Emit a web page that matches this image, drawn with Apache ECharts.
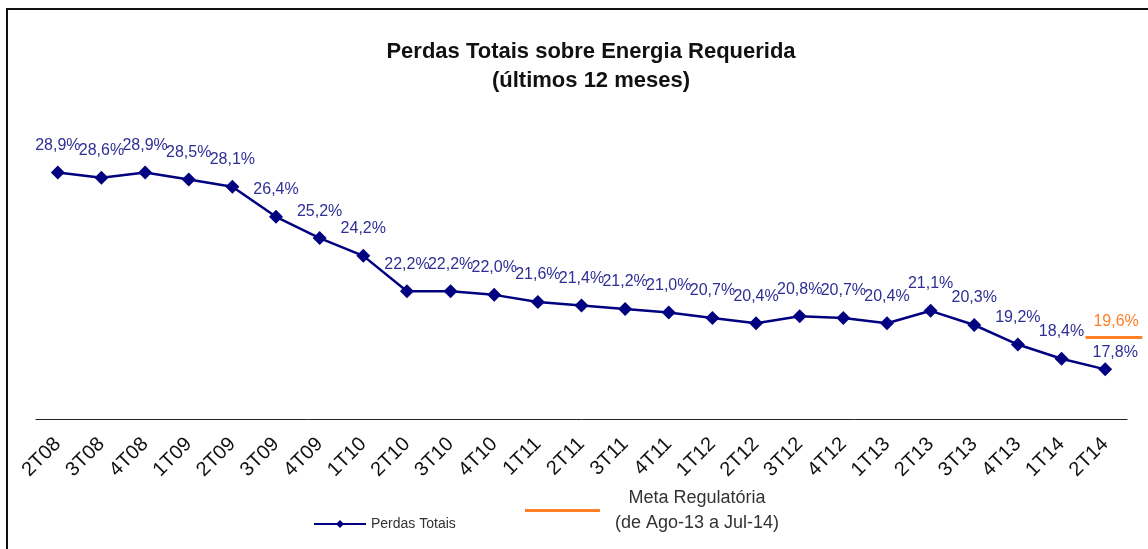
<!DOCTYPE html>
<html>
<head>
<meta charset="utf-8">
<script src="https://cdn.jsdelivr.net/npm/echarts@6/dist/echarts.min.js"></script>
<style>
  html, body { margin: 0; padding: 0; background: #fff; }
  #main { width: 1148px; height: 549px; }
</style>
</head>
<body>
<div id="main"></div>
<script>
// trimestres
const categories = ['2T08','3T08','4T08','1T09','2T09','3T09','4T09','1T10','2T10','3T10','4T10','1T11','2T11',
                    '3T11','4T11','1T12','2T12','3T12','4T12','1T13','2T13','3T13','4T13','1T14','2T14'];
// perdas totais (%)
const perdas = [28.9, 28.6, 28.9, 28.5, 28.1, 26.4, 25.2, 24.2, 22.2, 22.2, 22.0, 21.6, 21.4,
                21.2, 21.0, 20.7, 20.4, 20.8, 20.7, 20.4, 21.1, 20.3, 19.2, 18.4, 17.8];
// meta regulatoria (só no último trimestre)
const metaCat = '2T14';
const metaValor = 19.6;

const fmt = v => v.toFixed(1).replace('.', ',') + '%';
const sans = "'Liberation Sans', Arial, sans-serif";

const chart = echarts.init(document.getElementById('main'));

const option = {
    animation: false,
    graphic: [{
        type: 'rect',
        shape: { x: 7, y: 9, width: 1160, height: 570 },
        style: { fill: 'none', stroke: '#111', lineWidth: 2 }
    }, {
        type: 'text',
        x: 591, y: 37,
        style: {
            text: 'Perdas Totais sobre Energia Requerida\n(últimos 12 meses)',
            font: 'bold 22px ' + sans, fill: '#111', align: 'center', lineHeight: 29
        }
    }],
    legend: [{
        data: ['Perdas Totais'],
        left: 308,
        top: 512,
        itemWidth: 52,
        itemHeight: 10,
        textStyle: { fontFamily: sans, fontSize: 14, color: '#333' }
    }, {
        data: [{ name: 'Meta Regulatória', icon: 'rect' }],
        left: 520,
        top: 484,
        itemWidth: 75,
        itemHeight: 3,
        formatter: n => '{c|' + n + '}\n{c|(de Ago-13 a Jul-14)}',
        textStyle: {
            rich: { c: { width: 184, align: 'center', fontFamily: sans, fontSize: 18, color: '#333', lineHeight: 25 } }
        }
    }],
    grid: { left: 36, right: 21, top: 153, bottom: 130 },
    xAxis: {
        type: 'category',
        data: categories,
        boundaryGap: true,
        axisLine: { lineStyle: { color: '#222', width: 1 } },
        axisTick: { length: 8, lineStyle: { color: '#222' } },
        axisLabel: { rotate: 45, interval: 0, margin: 22, fontFamily: sans, fontSize: 20, color: '#111' }
    },
    yAxis: { type: 'value', min: 15, max: 30, show: false, splitLine: { show: false } },
    series: [{
        name: 'Perdas Totais',
        type: 'line',
        data: perdas,
        symbol: 'diamond',
        symbolSize: 14,
        color: '#000080',
        lineStyle: { width: 2.5, color: '#000080' },
        itemStyle: { color: '#000080' },
        label: {
            show: true,
            position: 'top',
            distance: 12,
            formatter: p => fmt(p.value),
            fontFamily: sans,
            fontSize: 16,
            color: '#2E2E94'
        },
        // último rótulo mais perto do ponto, como no original
        labelLayout: p => p.dataIndex === perdas.length - 1 ? { dx: 10, dy: 10 } : {}
    }, {
        name: 'Meta Regulatória',
        type: 'custom',
        color: '#FF7F27',
        itemStyle: { color: '#FF7F27' },
        data: [[metaCat, metaValor]],
        renderItem: (params, api) => {
            const p = api.coord([api.value(0), api.value(1)]);
            const bw = api.size([1, 0])[0];
            return {
                type: 'group',
                children: [{
                    type: 'line',
                    shape: { x1: p[0] - 0.45 * bw, y1: p[1], x2: p[0] + 0.85 * bw, y2: p[1] },
                    style: { stroke: '#FF7F27', lineWidth: 3 }
                }, {
                    type: 'text',
                    x: p[0] + 0.25 * bw, y: p[1] - 16,
                    style: {
                        text: fmt(metaValor), fill: '#FF7F27',
                        font: '16px ' + sans, align: 'center', verticalAlign: 'middle'
                    }
                }]
            };
        }
    }]
};

chart.setOption(option);
</script>
</body>
</html>
